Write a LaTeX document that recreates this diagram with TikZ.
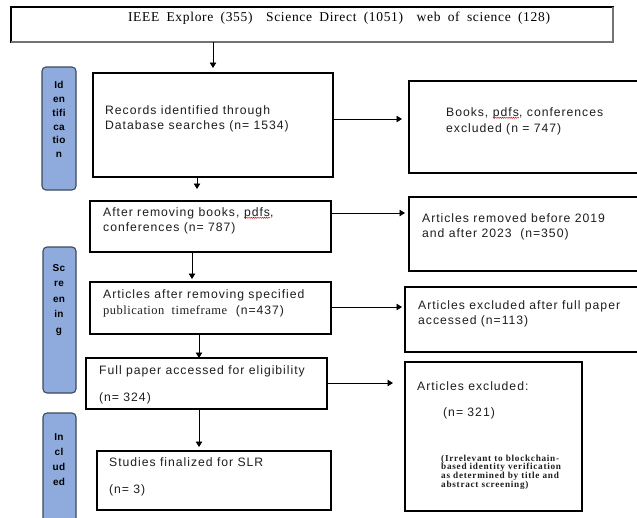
\documentclass[tikz,border=0pt]{standalone}
\usepackage{fontspec}
\setmainfont{Liberation Sans}
\newfontfamily\bodyfont[LetterSpace=8]{Liberation Sans}
\newfontfamily\serifbody[LetterSpace=4]{Liberation Serif}
\newfontfamily\headfont[LetterSpace=5,WordSpace=1.8]{Liberation Serif}
\newfontfamily\notefont[LetterSpace=8]{Liberation Serif}
\newfontfamily\stagefont[LetterSpace=3]{Liberation Sans}
\usetikzlibrary{arrows.meta,decorations.pathmorphing}
\definecolor{stageblue}{HTML}{8FAADC}
\definecolor{stageedge}{HTML}{3B4A5A}
\definecolor{inkgray}{HTML}{1E1E1E}

% red wavy spell-check underline under a word
\newcommand\wavyword[1]{\tikz[baseline=(ww.base)]{%
  \node[inner sep=0pt,outer sep=0pt,anchor=base](ww){#1};%
  \draw[red!85!black,line width=0.45pt,decorate,
        decoration={snake,amplitude=0.6pt,segment length=2.2pt}]
    ([yshift=-1.8pt]ww.base west)--([yshift=-1.8pt]ww.base east);}}

\tikzset{
  box/.style={draw=black, line width=1.1pt, inner sep=0pt, outer sep=0pt,
              anchor=north west},
  stage/.style={draw=stageedge, fill=stageblue, rounded corners=4pt,
                line width=1.1pt},
  stagetxt/.style={inner sep=0pt, align=center, text=black,
                   font=\fontsize{10}{#1}\stagefont\bfseries},
  arr/.style={-{Triangle[length=5.5pt,width=6.5pt]}, line width=0.9pt},
  txt/.style={anchor=base west, inner sep=0pt, align=left, text=inkgray,
              font=\fontsize{12.2}{#1}\bodyfont},
  txt/.default=15.5,
  note/.style={anchor=base west, inner sep=0pt, align=left, text=inkgray,
               font=\fontsize{9.2}{8.8}\notefont\bfseries},
}

\begin{document}
\begin{tikzpicture}[x=1pt,y=-1pt]
\clip (0,0) rectangle (637,517);
\fill[white] (0,0) rectangle (637,517);

% stage labels
\draw[stage] (42,67) rectangle (76,190);
\draw[stage] (43,247) rectangle (76,393);
\draw[stage] (43,413) rectangle (76,535);
\node[stagetxt=13.8] (lab1) at (59,119.5) {Id\\en\\tifi\\ca\\tio\\n};
\node[stagetxt=15.5] (lab2) at (59,300) {Sc\\re\\en\\in\\g};
\node[stagetxt=15] (lab3) at (59,459.5) {In\\cl\\ud\\ed};

% boxes
\node[box, minimum width=602, minimum height=35] (top) at (11,7) {};
\draw[black!55, line width=1.6pt] (top.north east) -- (top.south east) -- (top.south west);
\node[box, minimum width=240, minimum height=104] (b1) at (93,73) {};
\node[box, minimum width=240, minimum height=92]  (e1) at (409,81) {};
\node[box, minimum width=241, minimum height=51]  (b2) at (90,201) {};
\node[box, minimum width=240, minimum height=74]  (e2) at (409,197) {};
\node[box, minimum width=241, minimum height=52]  (b3) at (90,282) {};
\node[box, minimum width=240, minimum height=65]  (e3) at (405,287) {};
\node[box, minimum width=241, minimum height=51]  (b4) at (86,358) {};
\node[box, minimum width=177, minimum height=149] (e4) at (405,362) {};
\node[box, minimum width=234, minimum height=59]  (b5) at (97,451) {};

% texts (anchor on the baseline of the last line)
\node[anchor=base, inner sep=0pt, font=\fontsize{13.5}{15}\headfont] (ttop) at (339,21.5)
  {IEEE Explore (355)\quad Science Direct (1051)\quad web of science (128)};
\node[txt=15] (t1) at (105,129) {Records identified through\\Database searches (n= 1534)};
\node[txt=16] (te1) at (446,132) {Books, \wavyword{pdfs}, conferences\\excluded (n = 747)};
\node[txt=15] (t2) at (103,231) {After removing books, \wavyword{pdfs},\\conferences (n= 787)};
\node[txt=14.5] (te2) at (422,237) {Articles removed before 2019\\and after 2023\ \ (n=350)};
\node[txt=16] (t3) at (103,314) {Articles after removing specified\\{\fontsize{12.5}{16}\serifbody publication\ \ timeframe}\ \ (n=437)};
\node[txt=15] (te3) at (418,324) {Articles excluded after full paper\\accessed (n=113)};
\node[txt] (t4a) at (99,374) {Full paper accessed for eligibility};
\node[txt] (t4b) at (99,401) {(n= 324)};
\node[txt] (te4a) at (417,390) {Articles excluded:};
\node[txt] (te4b) at (443,416) {(n= 321)};
\node[note] (te4c) at (441,487.4) {(Irrelevant to blockchain-\\based identity verification\\as determined by title and\\abstract screening)};
\node[txt] (t5a) at (109,466) {Studies finalized for SLR};
\node[txt] (t5b) at (109,493) {(n= 3)};

% downward flow
\draw[arr, shorten >=5pt]  (top.south -| 213,0) -- (b1.north -| 213,0);
\draw[arr, shorten >=12pt] (b1.south -| 197,0) -- (b2.north -| 197,0);
\draw[arr, shorten >=3pt]  (b2.south -| 192,0) -- (b3.north -| 192,0);
\draw[arr]                 (b3.south -| 199,0) -- (b4.north -| 199,0);
\draw[arr, shorten >=4pt]  (b4.south -| 199,0) -- (b5.north -| 199,0);

% exclusions
\draw[arr, shorten >=7pt]  (b1.east |- 0,119) -- (e1.west |- 0,119);
\draw[arr, shorten >=4pt]  (b2.east |- 0,213) -- (e2.west |- 0,213);
\draw[arr, shorten >=3pt]  (b3.east |- 0,307) -- (e3.west |- 0,307);
\draw[arr, shorten >=12pt] (b4.east |- 0,383) -- (e4.west |- 0,383);
\end{tikzpicture}
\end{document}
